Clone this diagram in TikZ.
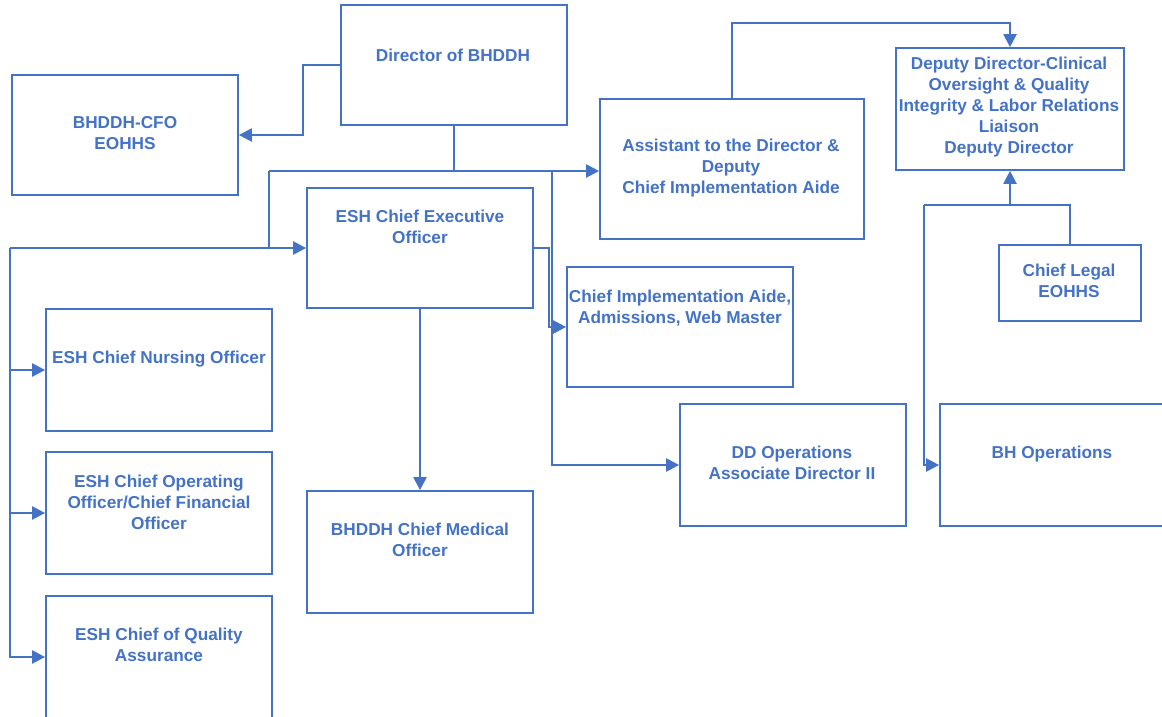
\documentclass[tikz,border=0pt]{standalone}
\usepackage{fontspec}
\setmainfont{Liberation Sans}
\usetikzlibrary{arrows.meta}
\definecolor{blu}{HTML}{4472C4}
\begin{document}
\begin{tikzpicture}[x=1bp,y=-1bp,
  box/.style={draw=blu,line width=1.7bp,inner sep=0pt,minimum width=#1},
  txt/.style={text=blu,align=center,inner sep=0pt,font=\fontsize{17.3}{21}\selectfont\bfseries},
  conn/.style={draw=blu,line width=2.2bp},
  arr/.style={conn,-{Triangle[length=13bp,width=13bp]}}]
\useasboundingbox (0,0) rectangle (1162,717);
% boxes
\node[box=226bp,minimum height=120bp] (dir) at (454,65) {};
\node[box=226bp,minimum height=120bp] (cfo) at (125,135) {};
\node[box=264bp,minimum height=140bp] (asst) at (732,169) {};
\node[box=228bp,minimum height=122bp] (dep) at (1010,109) {};
\node[box=226bp,minimum height=120bp] (ceo) at (420,248) {};
\node[box=226bp,minimum height=120bp] (impl) at (680,327) {};
\node[box=142bp,minimum height=76bp] (legal) at (1070,283) {};
\node[box=226bp,minimum height=122bp] (nurs) at (159,370) {};
\node[box=226bp,minimum height=122bp] (coo) at (159,513) {};
\node[box=226bp,minimum height=122bp] (qa) at (159,657) {};
\node[box=226bp,minimum height=122bp] (med) at (420,552) {};
\node[box=226bp,minimum height=122bp] (ddops) at (793,465) {};
\node[box=230bp,minimum height=122bp] (bhops) at (1055,465) {};
% texts
\node[txt] (tdir) at (453,55) {Director of BHDDH};
\node[txt] (tcfo) at (125,133) {BHDDH-CFO\\EOHHS};
\node[txt] (tasst) at (731,168) {Assistant to the Director \&\\Deputy\\Chief Implementation Aide};
\node[txt] (tdep) at (1009,107) {Deputy Director-Clinical\\Oversight \& Quality\\Integrity \& Labor Relations\\Liaison\\Deputy Director};
\node[txt] (tceo) at (420,227) {ESH Chief Executive\\Officer};
\node[txt] (timpl) at (680,308) {Chief Implementation Aide,\\Admissions, Web Master};
\node[txt] (tlegal) at (1069,281) {Chief Legal\\EOHHS};
\node[txt] (tnurs) at (159,359) {ESH Chief Nursing Officer};
\node[txt] (tcoo) at (159,502) {ESH Chief Operating\\Officer/Chief Financial\\Officer};
\node[txt] (tqa) at (159,645) {ESH Chief of Quality\\Assurance};
\node[txt] (tmed) at (420,540) {BHDDH Chief Medical\\Officer};
\node[txt] (tddops) at (792,463) {DD Operations\\Associate Director II};
\node[txt] (tbhops) at (1052,454) {BH Operations};
% junctions
\coordinate (b1) at (454,171);
\coordinate (b2) at (269,171);
\coordinate (b3) at (552,171);
\coordinate (l1) at (10,248);
\coordinate (rj) at (1010,205);
\coordinate (rl) at (924,205);
% connectors
\draw[arr] (dir.west) -- ++(-37,0) |- (cfo.east);
\draw[conn] (dir.south) -- (b1);
\draw[arr] (b2) -- (asst.west |- b1);
\draw[conn] (b2) |- (l1);
\draw[arr] (l1) -- (ceo.west);
\draw[arr] (l1) |- (nurs.west);
\draw[arr] (l1) |- (coo.west);
\draw[arr] (l1) |- (qa.west);
\draw[arr] (ceo.east) -- ++(15,0) |- (impl.west);
\draw[arr] (b3) |- (ddops.west);
\draw[arr] (ceo.south) -- (med.north);
\draw[arr] (asst.north) -- ++(0,-75) -| (dep.north);
\draw[conn] (legal.north) |- (rl);
\draw[arr] (rl) |- (bhops.west);
\draw[arr] (rj) -- (dep.south);
\end{tikzpicture}
\end{document}
